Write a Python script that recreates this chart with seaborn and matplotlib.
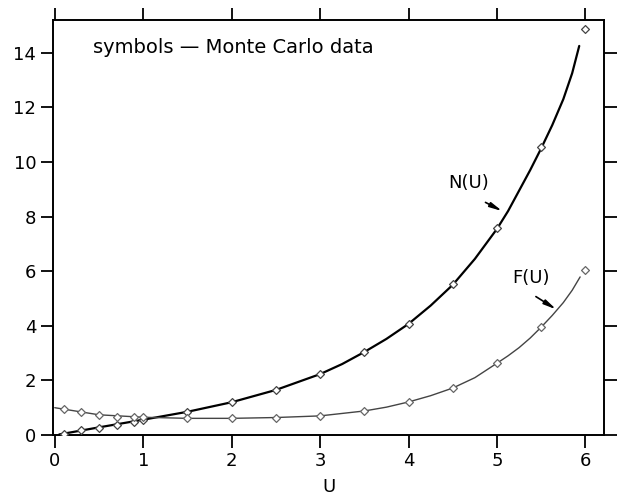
import numpy as np
import pandas as pd
import matplotlib
matplotlib.use("Agg")
import matplotlib.pyplot as plt
import seaborn as sns

# Monte Carlo data points
U_pts = [0.1, 0.3, 0.5, 0.7, 0.9, 1.0, 1.5, 2.0, 2.5, 3.0, 3.5, 4.0, 4.5, 5.0, 5.5, 6.0]
N_pts = [0.03, 0.17, 0.27, 0.38, 0.48, 0.56, 0.83, 1.2, 1.65, 2.23, 3.04, 4.07, 5.53, 7.58, 10.55, 14.87]
F_pts = [0.95, 0.84, 0.74, 0.67, 0.65, 0.65, 0.61, 0.61, 0.63, 0.70, 0.88, 1.21, 1.72, 2.63, 3.95, 6.04]

# theoretical curves
N_curve_u = [0.05, 0.5, 1.0, 1.5, 2.0, 2.5, 3.0, 3.25, 3.5, 3.75, 4.0, 4.25, 4.5, 4.75,
             5.0, 5.125, 5.25, 5.375, 5.5, 5.625, 5.75, 5.85, 5.93]
N_curve = [0.02, 0.28, 0.56, 0.85, 1.2, 1.65, 2.23, 2.6, 3.04, 3.52, 4.07, 4.74, 5.5, 6.45,
           7.55, 8.2, 8.95, 9.7, 10.5, 11.35, 12.3, 13.25, 14.25]
F_curve_u = [0.0, 0.5, 1.0, 1.5, 2.0, 2.5, 3.0, 3.5, 3.75, 4.0, 4.25, 4.5, 4.75, 5.0,
             5.125, 5.25, 5.375, 5.5, 5.625, 5.75, 5.85, 5.94]
F_curve = [1.0, 0.74, 0.65, 0.61, 0.61, 0.64, 0.70, 0.88, 1.02, 1.21, 1.44, 1.72, 2.1, 2.63,
           2.9, 3.2, 3.55, 3.95, 4.38, 4.85, 5.3, 5.79]

x_ticks = [0, 1, 2, 3, 4, 5, 6]
y_ticks = [0, 2, 4, 6, 8, 10, 12, 14]

sns.set_theme(style="white")
plt.rcParams["font.family"] = ["DejaVu Sans"]
plt.rcParams["text.color"] = "black"
plt.rcParams["axes.labelcolor"] = "black"

fig = plt.figure(figsize=(6.18, 5.0), dpi=100)
ax = fig.add_axes([53 / 618, 1 - 435 / 500, (604 - 53) / 618, (435 - 20) / 500])

sns.lineplot(x=N_curve_u, y=N_curve, ax=ax, color="black", linewidth=1.6, sort=False)
sns.lineplot(x=F_curve_u, y=F_curve, ax=ax, color="#444444", linewidth=1.0, sort=False)

sns.scatterplot(x=U_pts, y=N_pts, ax=ax, marker="D", s=16, facecolor="white",
                edgecolor="#444444", linewidth=0.9, zorder=5)
sns.scatterplot(x=U_pts, y=F_pts, ax=ax, marker="D", s=16, facecolor="white",
                edgecolor="#666666", linewidth=0.9, zorder=5)

ax.set_xlim(-0.02, 6.21)
ax.set_ylim(0, 15.2)
ax.set_xticks(x_ticks)
ax.set_yticks(y_ticks)
ax.tick_params(axis="both", which="both", direction="out", length=9, width=1.3,
               labelsize=13, color="black", labelcolor="black", pad=3,
               top=True, right=True, bottom=True, left=True,
               labeltop=False, labelright=False)
for s in ax.spines.values():
    s.set_linewidth(1.4)
    s.set_color("black")

ax.set_xlabel("U", fontsize=13, labelpad=6, color="black")
ax.set_ylabel("")

ax.text(0.43, 14.18, "symbols \u2014 Monte Carlo data", fontsize=14, va="center", ha="left",
        color="black")

ax.text(4.68, 9.23, "N(U)", fontsize=13, ha="center", va="center", color="black")
ax.annotate("", xy=(5.06, 8.2), xytext=(4.87, 8.52),
            arrowprops=dict(arrowstyle="-|>,head_length=0.6,head_width=0.12", color="black",
                            lw=1.2, shrinkA=0, shrinkB=0))
ax.text(5.39, 5.75, "F(U)", fontsize=13, ha="center", va="center", color="black")
ax.annotate("", xy=(5.67, 4.6), xytext=(5.44, 5.07),
            arrowprops=dict(arrowstyle="-|>,head_length=0.6,head_width=0.12", color="black",
                            lw=1.2, shrinkA=0, shrinkB=0))

fig.savefig("out.png", dpi=100)
